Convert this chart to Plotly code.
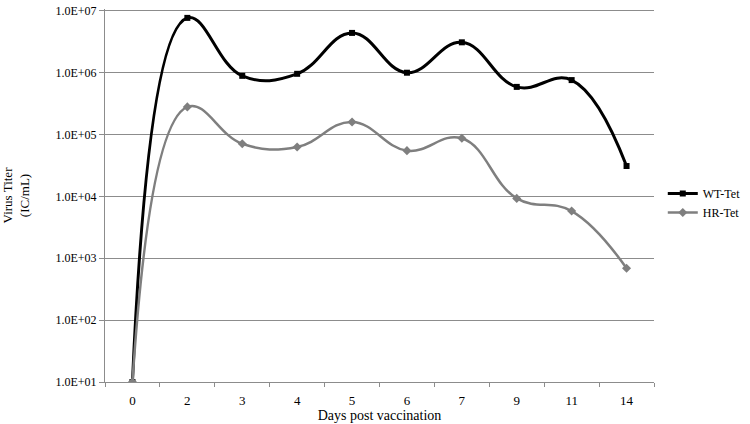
import plotly.graph_objects as go

#%% data
days = ['0', '2', '3', '4', '5', '6', '7', '9', '11', '14']
wt_tet = [1.0e1, 7.7e6, 8.9e5, 9.6e5, 4.4e6, 1.0e6, 3.1e6, 5.9e5, 7.6e5, 3.1e4]
hr_tet = [1.0e1, 2.8e5, 7.1e4, 6.3e4, 1.6e5, 5.5e4, 8.7e4, 9.3e3, 5.8e3, 6.9e2]

y_tickvals = [1e1, 1e2, 1e3, 1e4, 1e5, 1e6, 1e7]
y_ticktext = ['1.0E+01', '1.0E+02', '1.0E+03', '1.0E+04', '1.0E+05', '1.0E+06', '1.0E+07']

font_family = 'Liberation Serif, Times New Roman, serif'
grid_col = '#8c8c8c'

fig = go.Figure()
fig.add_trace(go.Scatter(x=days, y=wt_tet, name='WT-Tet', mode='lines+markers',
                         line=dict(color='black', width=3, shape='spline', smoothing=1.2),
                         marker=dict(symbol='square', size=6, color='black')))
fig.add_trace(go.Scatter(x=days, y=hr_tet, name='HR-Tet', mode='lines+markers',
                         line=dict(color='#7f7f7f', width=2.5, shape='spline', smoothing=1.2),
                         marker=dict(symbol='diamond', size=7, color='#7f7f7f')))

fig.update_layout(
    width=750, height=424,
    margin=dict(l=105, r=87, t=4, b=42),
    paper_bgcolor='white', plot_bgcolor='white',
    font=dict(family=font_family, size=12, color='black'),
    legend=dict(x=1.016, y=0.48, xanchor='left', yanchor='middle',
                font=dict(size=12), bgcolor='rgba(0,0,0,0)', tracegroupgap=0,
                itemwidth=30),
    showlegend=True,
)
fig.update_xaxes(type='category', range=[-0.5, 9.5],
                 showline=True, linecolor=grid_col, linewidth=1,
                 ticks='outside', tickson='boundaries', ticklen=4, tickcolor=grid_col,
                 showgrid=False, zeroline=False,
                 tickfont=dict(size=13), ticklabelstandoff=6,
                 title=dict(text='Days post vaccination', font=dict(size=14), standoff=0))
fig.update_yaxes(type='log', range=[1, 7.03],
                 tickvals=y_tickvals, ticktext=y_ticktext, ticklabeloverflow='allow',
                 showline=True, linecolor=grid_col, linewidth=1,
                 ticks='outside', ticklen=5, tickcolor=grid_col,
                 showgrid=True, gridcolor=grid_col, gridwidth=1, zeroline=False,
                 tickfont=dict(size=12),
                 title=dict(text='Virus Titer<br>(IC/mL)', font=dict(size=13), standoff=24))

# page body has a default 8px margin, drop it so the figure sits at the corner
fig.write_html("out.html", config={'displayModeBar': False},
               post_script="document.body.style.margin='0';")
